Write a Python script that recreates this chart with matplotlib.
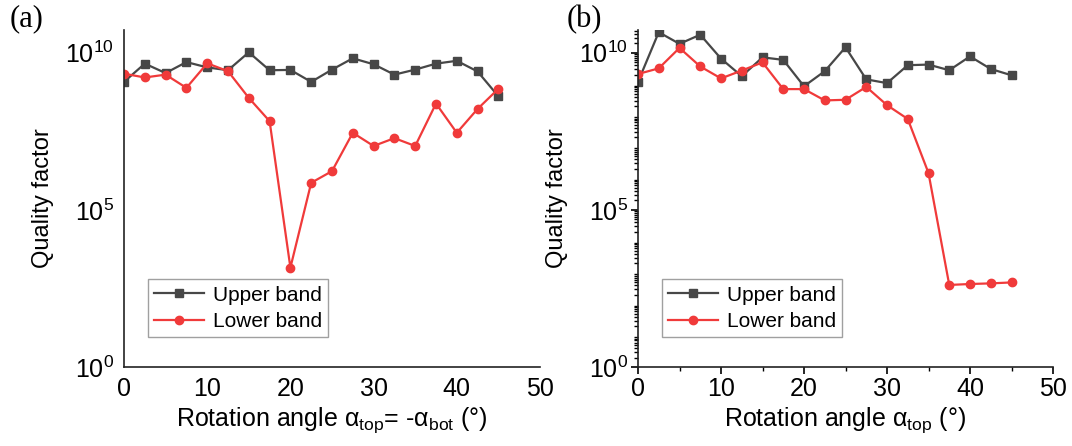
import numpy as np
import matplotlib
matplotlib.use("Agg")
import matplotlib.pyplot as plt
from matplotlib.ticker import FixedLocator, LogLocator, NullFormatter

plt.rcParams["font.family"] = ["Liberation Sans", "DejaVu Sans"]
plt.rcParams["mathtext.fontset"] = "custom"
plt.rcParams["mathtext.rm"] = "Liberation Sans"
plt.rcParams["mathtext.it"] = "Liberation Sans:italic"

# ------------------ data (log10 of quality factor) ------------------
angle = [0, 2.5, 5, 7.5, 10, 12.5, 15, 17.5, 20, 22.5, 25, 27.5, 30, 32.5, 35, 37.5, 40, 42.5, 45]

upper_a = [9.07, 9.65, 9.35, 9.70, 9.53, 9.44, 10.01, 9.44, 9.45, 9.07,
           9.46, 9.82, 9.63, 9.30, 9.46, 9.65, 9.74, 9.40, 8.61]
lower_a = [9.33, 9.21, 9.30, 8.88, 9.66, 9.41, 8.56, 7.82, 3.16, 5.86,
           6.23, 7.45, 7.03, 7.28, 7.03, 8.38, 7.45, 8.21, 8.85]

upper_b = [9.07, 10.65, 10.28, 10.57, 9.81, 9.25, 9.85, 9.77, 8.93, 9.41,
           10.17, 9.15, 9.03, 9.60, 9.62, 9.44, 9.88, 9.48, 9.28]
lower_b = [9.32, 9.50, 10.15, 9.56, 9.18, 9.43, 9.69, 8.84, 8.84, 8.48,
           8.50, 8.91, 8.33, 7.89, 6.17, 2.61, 2.64, 2.66, 2.69]

xlabels = [r"Rotation angle α$_\mathregular{top}$= -α$_\mathregular{bot}$ (°)",
           r"Rotation angle α$_\mathregular{top}$ (°)"]
panel_names = ["(a)", "(b)"]

gray = "#474747"
red = "#f03a3a"

fig = plt.figure(figsize=(10.72, 4.46), dpi=100)
ax_a = fig.add_axes([124 / 1072, 79 / 446, 416 / 1072, 337 / 446])
ax_b = fig.add_axes([638 / 1072, 79 / 446, 415 / 1072, 337 / 446])

for i, (ax, up, lo) in enumerate([(ax_a, upper_a, lower_a), (ax_b, upper_b, lower_b)]):
    ax.plot(angle, 10 ** np.array(up), color=gray, lw=1.6, marker="s", ms=6, label="Upper band")
    ax.plot(angle, 10 ** np.array(lo), color=red, lw=1.6, marker="o", ms=6, label="Lower band")
    ax.set_yscale("log")
    ax.set_ylim(1, 10 ** 10.72)
    ax.set_xlim(0, 50)
    ax.yaxis.set_major_locator(FixedLocator([1, 1e5, 1e10]))
    ax.set_yticklabels([r"$\mathregular{10^0}$", r"$\mathregular{10^5}$", r"$\mathregular{10^{10}}$"])
    ax.set_xticks([0, 10, 20, 30, 40, 50])
    for s in ["top", "right"]:
        ax.spines[s].set_visible(False)
    for s in ["left", "bottom"]:
        ax.spines[s].set_linewidth(1.2)
        ax.spines[s].set_color("#222222")
    ax.set_xlabel(xlabels[i], fontsize=18, labelpad=3)
    ax.set_ylabel("Quality factor", fontsize=17, labelpad=8)
    ax.tick_params(labelsize=18)
    leg = ax.legend(loc="upper left", bbox_to_anchor=(0.058, 0.26), fontsize=15,
                    handlelength=2.4, borderpad=0.3, labelspacing=0.35,
                    handletextpad=0.4, borderaxespad=0, fancybox=False)
    leg.get_frame().set_edgecolor("#888888")
    leg.get_frame().set_linewidth(1.0)

# panel (a) has no tick marks
ax_a.tick_params(length=0, pad=7)
ax_a.yaxis.set_minor_locator(FixedLocator([]))

# panel (b) has outward ticks and minor ticks
ax_b.tick_params(which="major", length=5, width=1.2, direction="out", pad=2)
ax_b.tick_params(which="minor", length=3, width=1.0, direction="out")
ax_b.yaxis.set_minor_locator(LogLocator(base=10, subs=np.arange(2, 10), numticks=100))
ax_b.yaxis.set_minor_formatter(NullFormatter())
ax_b.xaxis.set_minor_locator(FixedLocator([5, 15, 25, 35, 45]))

fig.text(10 / 1072, 0.99, panel_names[0], family="Liberation Serif", fontsize=22, va="top")
fig.text(567 / 1072, 0.99, panel_names[1], family="Liberation Serif", fontsize=22, va="top")

plt.savefig("out.png", dpi=100)
